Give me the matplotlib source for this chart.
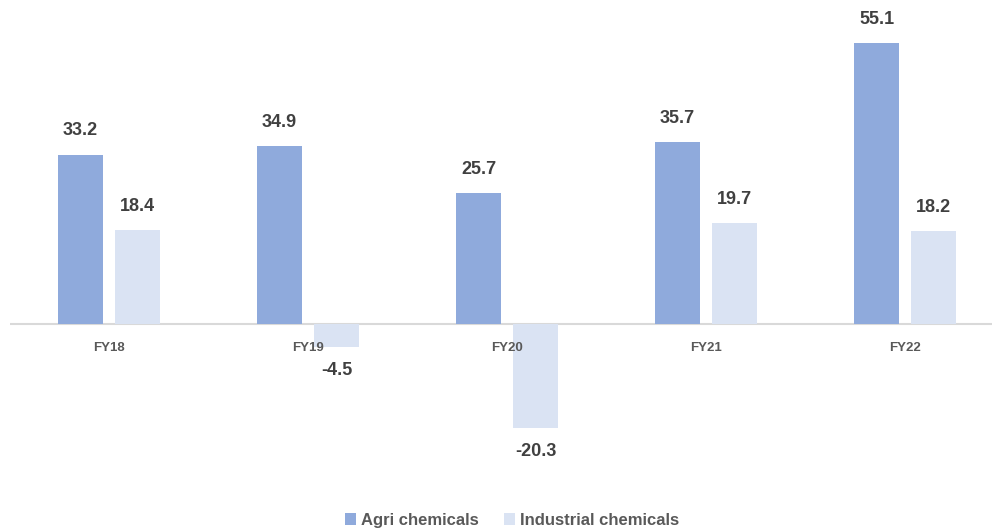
import matplotlib.pyplot as plt
import numpy as np
from matplotlib.transforms import ScaledTranslation

years = ['FY18', 'FY19', 'FY20', 'FY21', 'FY22']
agri = [33.2, 34.9, 25.7, 35.7, 55.1]
industrial = [18.4, -4.5, -20.3, 19.7, 18.2]

agri_color = '#8FAADC'
ind_color = '#DAE3F3'
label_color = '#404040'
tick_color = '#595959'

plt.rcParams['font.family'] = ['Liberation Sans', 'DejaVu Sans']

fig = plt.figure(figsize=(9.92, 5.31), dpi=100)
ax = fig.add_axes([0.0101, 0.115, 0.9899, 0.885])

x = np.arange(len(years))
width = 0.226
offset = 0.143

bars_a = ax.bar(x - offset, agri, width, color=agri_color, label='Agri chemicals')
bars_i = ax.bar(x + offset, industrial, width, color=ind_color, label='Industrial chemicals')

# value labels above positive bars, below negative ones
for bars in (bars_a, bars_i):
    for b in bars:
        v = b.get_height()
        dy = 11 if v >= 0 else -11
        ax.annotate(f'{v:.1f}', (b.get_x() + b.get_width() / 2, v),
                    xytext=(0, dy), textcoords='offset points',
                    ha='center', va='bottom' if v >= 0 else 'top',
                    fontsize=13, fontweight='bold', color=label_color)

ax.axhline(0, color='#D9D9D9', lw=1.5, zorder=0)
ax.set_xlim(-0.497, 4.437)
ax.set_ylim(-28.6, 63.5)
ax.set_xticks(x)
ax.set_xticklabels(years, fontsize=9.5, fontweight='bold', color=tick_color)
ax.set_yticks([])
for sp in ax.spines.values():
    sp.set_visible(False)

# tick labels sit just under the zero line, not at the axes bottom
ax.tick_params(axis='x', length=0, pad=0)
zero_frac = 28.6 / (63.5 + 28.6)
shift = ScaledTranslation(0, -0.18, fig.dpi_scale_trans)
for lbl in ax.get_xticklabels():
    lbl.set_transform(ax.get_xaxis_transform() + shift)
    lbl.set_y(zero_frac)
    lbl.set_verticalalignment('top')

leg = fig.legend(handles=[bars_a, bars_i], loc='center', bbox_to_anchor=(0.516, 0.02),
                 ncol=2, frameon=False, fontsize=12, handlelength=0.65, handleheight=0.65,
                 columnspacing=1.5, handletextpad=0.3)
for t in leg.get_texts():
    t.set_color(tick_color)
    t.set_fontweight('bold')

fig.savefig('out.png', dpi=100)
